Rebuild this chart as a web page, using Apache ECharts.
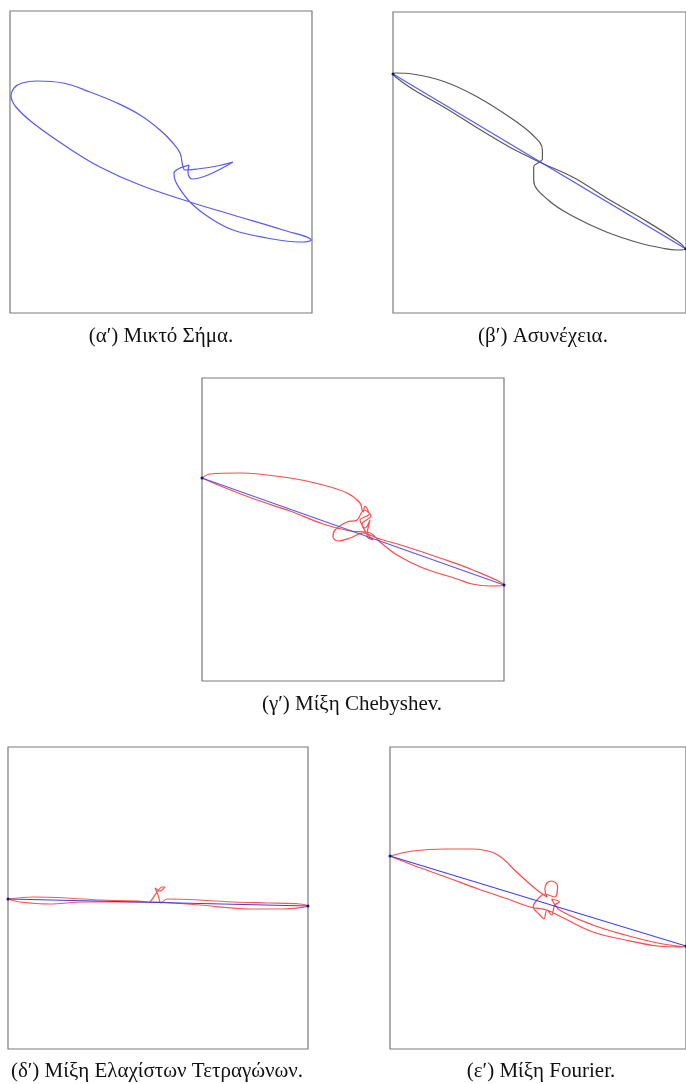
<!DOCTYPE html>
<html>
<head>
<meta charset="utf-8">
<script src="https://cdn.jsdelivr.net/npm/echarts@6/dist/echarts.min.js"></script>
<style>
html,body{margin:0;padding:0;background:#fff;}
#c{width:686px;height:1084px;}
</style>
</head>
<body>
<div id="c"></div>
<script>
// Panel captions
const captions = ["(α′) Μικτό Σήμα.", "(β′) Ασυνέχεια.", "(γ′) Μίξη Chebyshev.", "(δ′) Μίξη Ελαχίστων Τετραγώνων.", "(ε′) Μίξη Fourier."];

// (α) mixed signal trajectory
const alphaCurve = [[223,151],[207,155],[187,158],[175,159],[173,156],[170,142],[163,132],[150,119],[130,104],[107,92],[80,81],[53,72],[27,70],[12,72],[4,77],[1,85],[6,96],[23,112],[57,136],[90,156],[130,174],[180,191],[223,204],[273,219],[301,229],[290,231],[257,227],[223,219],[200,207],[183,194],[172,181],[165,169],[164,162],[170,157],[173,156],[179,154],[178,161],[182,168],[198,164],[223,151]];

// (β) discontinuity
const betaLine = [[0,62],[302,237]];
const betaCurve = [[0,62],[2,61],[20,62],[54,70],[87,85],[120,105],[144,123],[154,138],[154,147],[151,150],[145,155],[145,168],[160,188],[187,205],[220,220],[254,231],[277,236],[293,238],[301,237],[293,229],[254,205],[220,186],[187,166],[151,150],[120,135],[87,116],[54,96],[20,77],[4,66],[0,62]];

// (γ) Chebyshev mixing
const gammaLine = [[0,100],[302,207]];
const gammaCurve = [[0,100],[8,96],[38,95],[88,100],[121,107],[145,115],[158,125],[161,134],[163,128],[167,136],[158,142],[163,150],[168,142],[165,158],[171,162],[160,146],[169,138],[162,132],[155,142],[145,144],[133,152],[131,159],[136,163],[148,160],[161,155],[175,160],[205,169],[238,180],[271,192],[302,207],[288,208],[270,206],[255,201],[221,190],[195,177],[178,164],[168,155],[148,153],[121,146],[88,133],[55,122],[21,109],[0,100]];

// (δ) least squares mixing
const deltaLine = [[0,152],[300,159]];
const deltaCurve = [[0,152],[25,150],[59,151],[92,153],[130,154],[141,155],[147,148],[154,140],[157,140],[152,144],[147,141],[150,148],[153,156],[159,152],[192,153],[225,155],[260,156],[292,157],[300,159],[275,162],[242,162],[192,158],[165,156],[150,155],[120,155],[75,155],[42,157],[12,155],[0,152]];

// (ε) Fourier mixing
const epsLine = [[0,109],[302,199]];
const epsCurve = [[0,109],[23,104],[57,102],[85,102],[100,104],[110,108],[118,114],[126,122],[137,132],[150,143],[160,150],[158,142],[160,136],[165,134],[171,139],[168,150],[158,147],[150,153],[146,160],[152,167],[157,172],[160,163],[165,168],[168,158],[173,155],[165,152],[173,163],[207,178],[240,188],[273,196],[302,200],[273,199],[240,193],[207,185],[175,170],[160,163],[143,160],[123,153],[90,142],[57,130],[23,118],[0,109]];

const boxes = [
  {left:10, top:11, w:302, h:302},
  {left:393, top:12, w:302, h:301},
  {left:202, top:378, w:302, h:303},
  {left:8, top:747, w:300, h:302},
  {left:390, top:747, w:302, h:302}
];
const capPos = [[161,336],[543,336],[352,704],[157,1071],[541,1071]];

const grids = [], xAxes = [], yAxes = [], series = [];
boxes.forEach((b,i)=>{
  grids.push({left:b.left, top:b.top, width:b.w, height:b.h, show:true, borderColor:'#7a7a7a', borderWidth:1.2, backgroundColor:'#fff', containLabel:false});
  xAxes.push({type:'value', gridIndex:i, min:0, max:b.w, show:false});
  yAxes.push({type:'value', gridIndex:i, min:0, max:b.h, inverse:true, show:false});
});

function curve(i, data, color, w, smooth){
  series.push({type:'line', xAxisIndex:i, yAxisIndex:i, data:data, showSymbol:false, smooth:smooth,
    lineStyle:{color:color, width:w}, silent:true, animation:false, z:2});
}
function straight(i, data, color){
  series.push({type:'line', xAxisIndex:i, yAxisIndex:i, data:data, showSymbol:true, symbol:'circle', symbolSize:3,
    itemStyle:{color:'#10108a'}, lineStyle:{color:color, width:1.1}, silent:true, animation:false, z:3});
}

curve(0, alphaCurve, 'rgba(60,60,235,0.85)', 1.2, 0.4);
curve(1, betaCurve, 'rgba(60,60,60,0.85)', 1.2, 0.4);
straight(1, betaLine, 'rgba(70,70,245,0.9)');
curve(2, gammaCurve, 'rgba(255,30,30,0.8)', 1.2, 0.35);
straight(2, gammaLine, 'rgba(70,70,245,0.9)');
curve(3, deltaCurve, 'rgba(255,30,30,0.75)', 1.2, 0.3);
straight(3, deltaLine, 'rgba(50,50,230,0.95)');
curve(4, epsCurve, 'rgba(255,30,30,0.8)', 1.2, 0.35);
straight(4, epsLine, 'rgba(50,50,240,0.95)');

const graphics = captions.map((t,i)=>({
  type:'text', x:capPos[i][0], y:capPos[i][1],
  style:{text:t, fill:'#111', font:'21px "Liberation Serif", "DejaVu Serif", serif', textAlign:'center', textVerticalAlign:'middle'}
}));

const chart = echarts.init(document.getElementById('c'), null, {renderer:'canvas'});
chart.setOption({
  animation:false,
  grid:grids, xAxis:xAxes, yAxis:yAxes, series:series, graphic:graphics
});
</script>
</body>
</html>
